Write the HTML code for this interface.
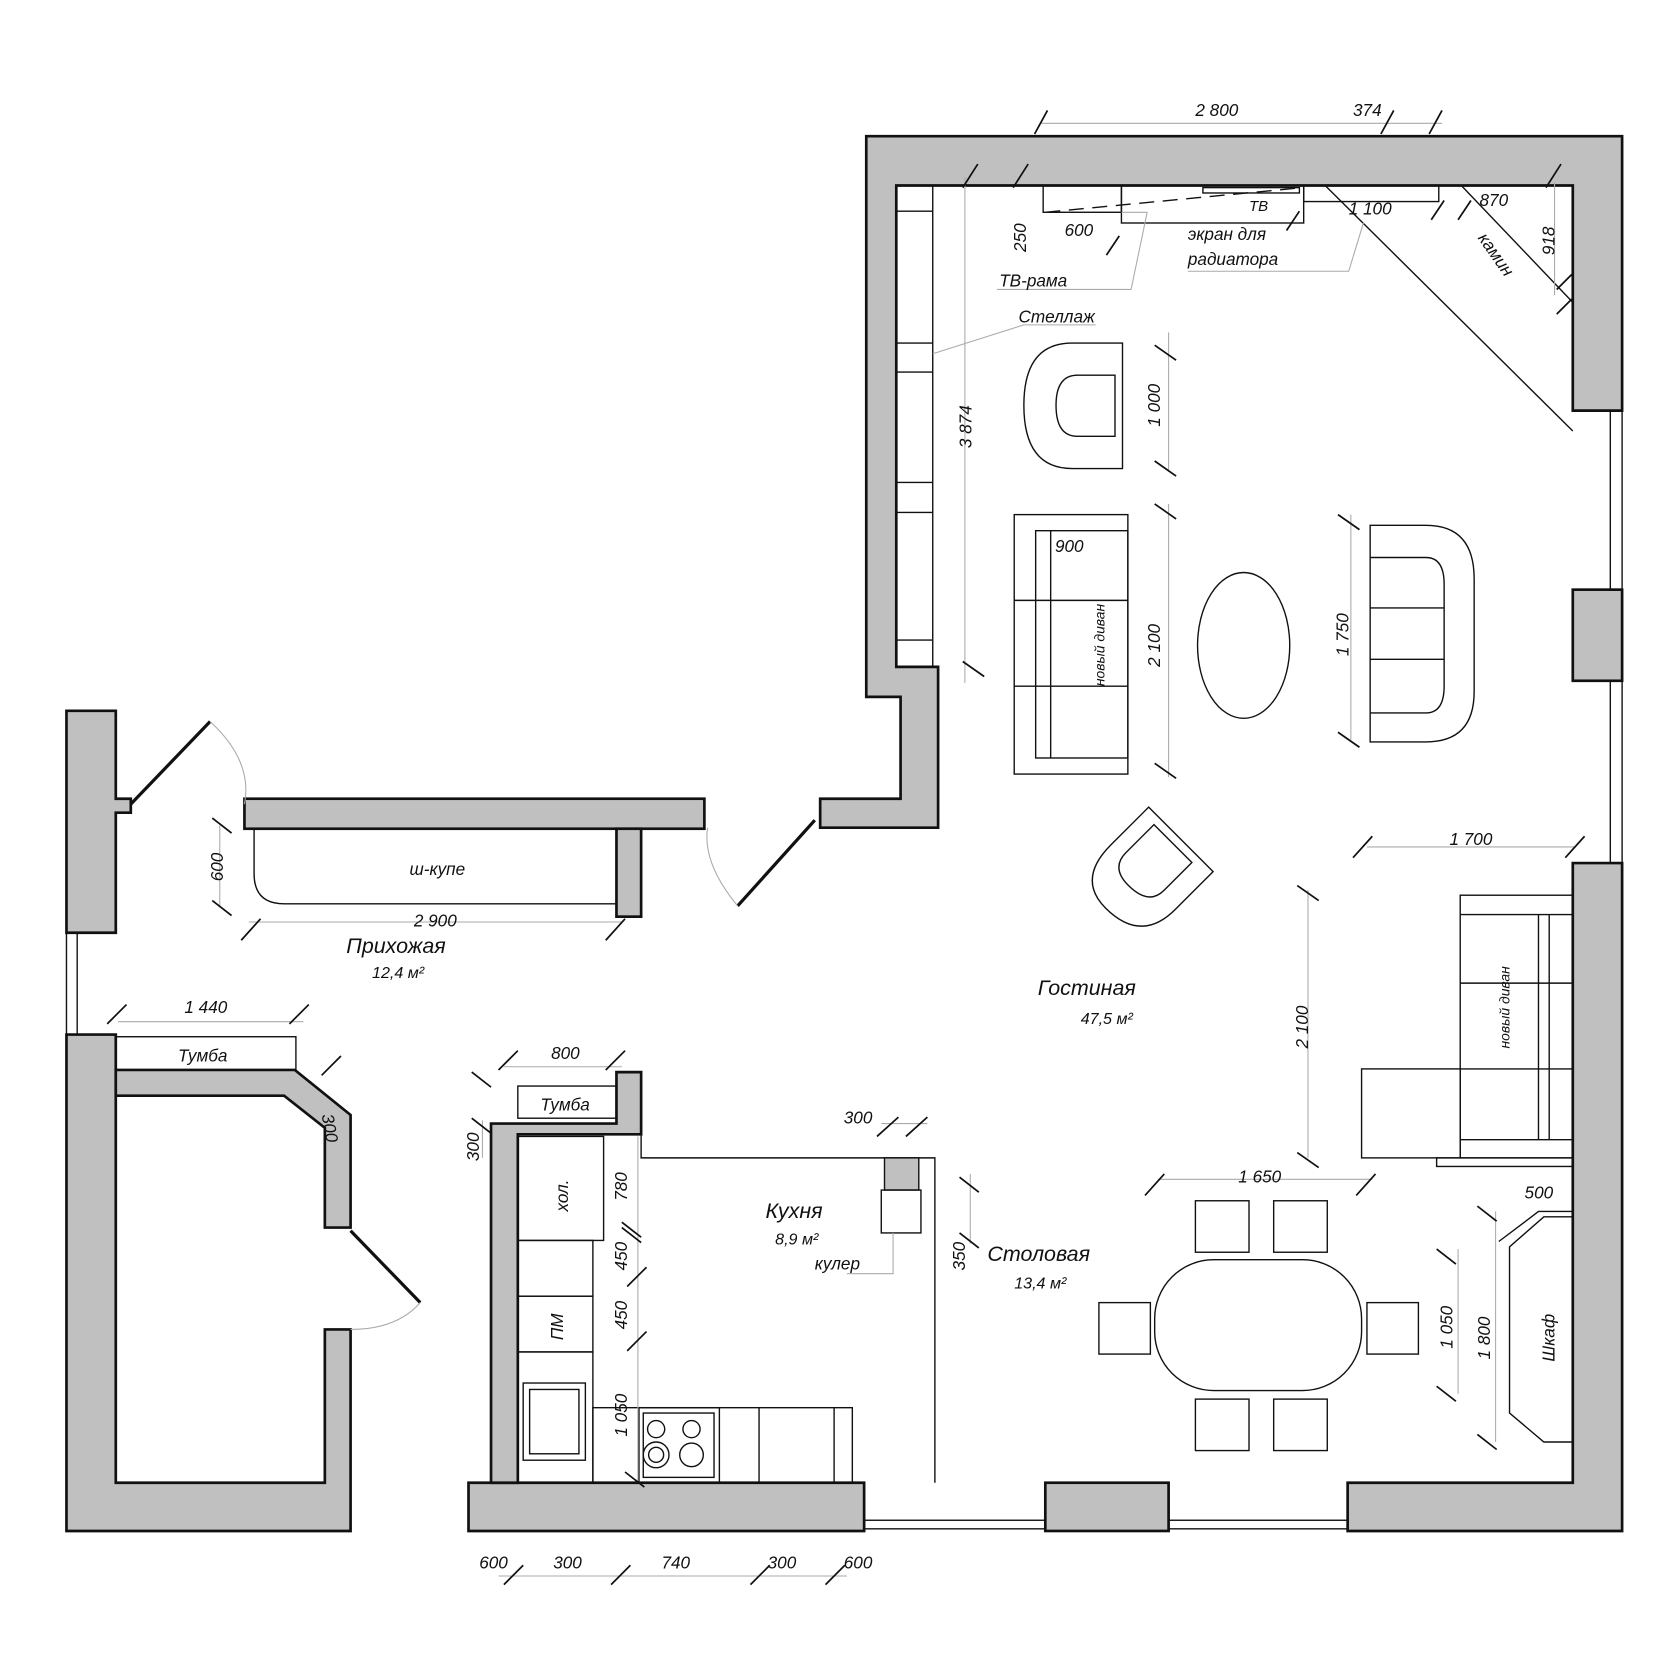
<!DOCTYPE html>
<html><head><meta charset="utf-8"><style>
html,body{margin:0;padding:0;background:#fff}
svg{display:block}
text{font-family:"Liberation Sans",sans-serif;font-style:italic;fill:#111}
</style></head><body>
<svg width="1680" height="1680" viewBox="0 0 1567 1567" xmlns="http://www.w3.org/2000/svg">
<g fill="#c0c0c0" stroke="#111" stroke-width="2.5">
<!-- living room walls -->
<path d="M808,127 H1513 V383 H1467 V173 H836 V622 H875 V772 H765 V745 H840 V650 H808 Z"/>
<rect x="1467" y="550" width="46" height="85"/>
<path d="M1467,805 H1513 V1428 H1257 V1383 H1467 Z"/>
<rect x="975" y="1383" width="115" height="45"/>
<path d="M437,1383 H806 V1428 H437 Z"/>
<!-- kitchen left wall -->
<path d="M458,1383 V1048 H575 V1000 H598 V1058 H483 V1383 Z"/>
<!-- corridor wall -->
<rect x="228" y="745" width="429" height="28"/>
<rect x="575" y="773" width="23" height="82"/>
<!-- hallway -->
<path d="M62,663 H108 V745 H122 V758 H108 V870 H62 Z"/>
<path d="M62,965 H108 V1383 H303 V1240 H327 V1428 H62 Z"/>
<path d="M108,998 H275 L327,1040 V1145 H303 V1052 L265,1022 H108 Z"/>
</g>
<g fill="none" stroke="#111" stroke-width="1.3">
<!-- windows -->
<rect x="1502" y="383" width="11" height="167"/><rect x="1502" y="635" width="11" height="170"/>
<rect x="806" y="1418" width="169" height="8"/><rect x="1090" y="1418" width="167" height="8"/>
<rect x="62" y="870" width="10" height="95"/>
<!-- shelf -->
<rect x="836" y="173" width="34" height="449"/>
<path d="M836,197H870M836,320H870M836,347H870M836,450H870M836,478H870M836,597H870"/>
<!-- TV stuff -->
<rect x="973" y="173" width="73" height="25"/><rect x="1046" y="173" width="170" height="35"/>
<rect x="1216" y="173" width="126" height="15"/>
<path d="M1236,173 L1467,402 M1363,173 L1467,282"/>
<path d="M975,198 L1215,175" stroke-dasharray="14,8"/>
<rect x="1122" y="175" width="90" height="5"/>
<!-- armchair top -->
<path d="M1047,320 H1000 Q955,320 955,378 Q955,437 1000,437 H1047 Z M1040,350 H1005 Q985,350 985,378 Q985,407 1005,407 H1040 Z"/>
<!-- left sofa -->
<rect x="946" y="480" width="106" height="242"/><rect x="966" y="495" width="86" height="212"/>
<path d="M980,495V707M946,560H1052M946,640H1052"/>
<!-- oval table -->
<ellipse cx="1160" cy="602" rx="43" ry="68"/>
<!-- right armchair -->
<path d="M1278,490 H1330 Q1375,490 1375,540 V645 Q1375,692 1330,692 H1278 Z M1278,520 H1330 Q1347,520 1347,545 V640 Q1347,665 1330,665 H1278 Z M1278,567H1347M1278,615H1347"/>
<!-- rotated armchair -->
<g transform="rotate(-45 1070 808)"><path d="M1110,770 H1060 Q1015,770 1015,808 Q1015,855 1060,855 H1110 Z M1102,785 H1065 Q1045,785 1045,808 Q1045,835 1065,835 H1102 Z"/></g>
<!-- right sofa -->
<rect x="1362" y="835" width="105" height="245"/><rect x="1270" y="997" width="92" height="83"/>
<path d="M1435,853V1063M1445,853V1063M1362,853H1467M1362,917H1467M1362,997H1467M1362,1063H1467"/>
<rect x="1340" y="1080" width="127" height="8"/>
<!-- dining -->
<rect x="1077" y="1175" width="193" height="122" rx="55"/>
<rect x="1115" y="1120" width="50" height="48"/><rect x="1188" y="1120" width="50" height="48"/>
<rect x="1115" y="1305" width="50" height="48"/><rect x="1188" y="1305" width="50" height="48"/>
<rect x="1025" y="1215" width="48" height="48"/><rect x="1275" y="1215" width="48" height="48"/>
<!-- wardrobe -->
<path d="M1467,1135 H1440 L1408,1163 V1318 L1440,1345 H1467"/>
<path d="M1467,1130 H1435 L1398,1158"/>
<!-- closet -->
<path d="M575,773 H237 V815 Q237,843 265,843 H575"/>
<!-- tumbas -->
<rect x="108" y="967" width="168" height="31"/><rect x="483" y="1013" width="92" height="30"/>
<!-- kitchen -->
<path d="M598,1058 V1080 H872 V1383"/>
<rect x="483" y="1060" width="80" height="97"/><rect x="483" y="1157" width="70" height="52"/>
<rect x="483" y="1209" width="70" height="52"/><rect x="483" y="1261" width="70" height="122"/>
<rect x="488" y="1290" width="58" height="72"/><rect x="494" y="1296" width="46" height="60"/>
<rect x="553" y="1313" width="242" height="70"/><rect x="596" y="1313" width="75" height="70"/>
<rect x="600" y="1318" width="66" height="60"/>
<circle cx="612" cy="1333" r="8"/><circle cx="645" cy="1333" r="8"/><circle cx="612" cy="1357" r="12"/><circle cx="612" cy="1357" r="7"/><circle cx="645" cy="1357" r="11"/>
<path d="M708,1313V1383M778,1313V1383"/>
<rect x="825" y="1080" width="32" height="30" fill="#c0c0c0"/><rect x="822" y="1110" width="37" height="40"/>
<!-- doors -->
<path d="M122,750 L196,673 M760,765 L688,845 M327,1148 L392,1215" stroke-width="3"/>
</g>
<g fill="none" stroke="#aaa" stroke-width="1">
<path d="M196,673 Q236,710 228,750 M688,845 Q655,805 660,772 M392,1215 Q370,1240 327,1240"/>
<path d="M870,330 L955,303 H1022 M1055,270 L1070,198 H1046 M930,270 H1055 M1108,253 H1258 L1272,207"/>
<path d="M970,115H1345M1275,790H1470M1080,1100H1280M232,860H580M110,953H283M470,995H580M822,1048H865M900,165V637M1090,310V440M1090,470V725M1260,480V690M1220,830V1080M1360,1165V1300M1395,1130V1345M1450,170V275M595,1060V1383M905,1095V1160M450,1045V1080M205,770V845M465,1470H790"/>
<path d="M833,1150V1188H790"/>
</g>
<g stroke="#111" stroke-width="1.6">
<path d="M965,125l12,-22M1288,125l12,-22M1333,125l12,-22M898,175l14,-22M945,175l14,-22M1442,175l14,-22M1032,238l12,-18M1200,215l12,-18M1335,205l12,-18M1360,205l12,-18M1452,270l14,-14M1452,293l14,-14M1077,322l20,14M1077,430l20,14M1077,470l20,14M1077,712l20,14M1248,480l20,14M1248,683l20,14M898,617l20,14M1262,800l18,-20M1460,800l18,-20M1210,826l20,14M1210,1075l20,14M1068,1115l18,-20M1265,1115l18,-20M1340,1165l18,14M1340,1293l18,14M1378,1125l18,14M1378,1338l18,14M845,1060l20,-18M818,1060l20,-18M895,1098l18,14M895,1150l18,14M198,763l18,14M198,840l18,14M225,877l18,-20M565,877l18,-20M100,955l18,-18M270,955l18,-18M300,1003l18,-18M465,998l18,-18M565,998l18,-18M440,1000l18,14M440,1043l18,14M580,1140l18,14M580,1145l18,14M585,1200l18,-18M585,1260l18,-18M583,1373l18,14M470,1478l18,-18M570,1478l18,-18M700,1478l18,-18M770,1478l18,-18"/>
</g>
<g font-size="16">
<text x="1115" y="108">2 800</text><text x="1262" y="108">374</text>
<text x="1258" y="200">1 100</text><text x="1380" y="192">870</text>
<text x="993" y="220">600</text><text x="1165" y="197" font-size="14">ТВ</text>
<text x="1108" y="224">экран для</text><text x="1108" y="247">радиатора</text>
<text x="932" y="267">ТВ-рама</text><text x="950" y="301">Стеллаж</text>
<text x="984" y="515">900</text><text x="1352" y="788">1 700</text><text x="1155" y="1103">1 650</text>
<text x="1422" y="1118">500</text><text x="382" y="816">ш-купе</text><text x="386" y="864">2 900</text>
<text x="172" y="945">1 440</text><text x="166" y="990">Тумба</text><text x="514" y="988">800</text>
<text x="504" y="1036">Тумба</text><text x="787" y="1048">300</text><text x="760" y="1184">кулер</text>
<text x="447" y="1463">600</text><text x="516" y="1463">300</text><text x="617" y="1463">740</text><text x="716" y="1463">300</text><text x="787" y="1463">600</text>
<text transform="translate(957,235) rotate(-90)">250</text>
<text transform="translate(1450,238) rotate(-90)">918</text>
<text transform="translate(1378,222) rotate(55)">камин</text>
<text transform="translate(906,418) rotate(-90)">3 874</text>
<text transform="translate(1082,398) rotate(-90)">1 000</text>
<text transform="translate(1082,622) rotate(-90)">2 100</text>
<text transform="translate(1258,612) rotate(-90)">1 750</text>
<text transform="translate(1220,978) rotate(-90)">2 100</text>
<text transform="translate(1355,1258) rotate(-90)">1 050</text>
<text transform="translate(1390,1268) rotate(-90)">1 800</text>
<text transform="translate(1450,1270) rotate(-90)">Шкаф</text>
<text transform="translate(900,1185) rotate(-90)">350</text>
<text transform="translate(208,822) rotate(-90)">600</text>
<text transform="translate(300,1040) rotate(80)">300</text>
<text transform="translate(447,1083) rotate(-90)">300</text>
<text transform="translate(585,1120) rotate(-90)">780</text>
<text transform="translate(585,1185) rotate(-90)">450</text>
<text transform="translate(585,1240) rotate(-90)">450</text>
<text transform="translate(585,1340) rotate(-90)">1 050</text>
<text transform="translate(530,1130) rotate(-90)">хол.</text>
<text transform="translate(525,1250) rotate(-90)">ПМ</text>
<text transform="translate(1030,640) rotate(-90)" font-size="13">новый диван</text>
<text transform="translate(1408,978) rotate(-90)" font-size="13">новый диван</text>
</g>
<g font-size="20">
<text x="323" y="889">Прихожая</text><text x="968" y="928">Гостиная</text>
<text x="714" y="1136">Кухня</text><text x="921" y="1176">Столовая</text>
</g>
<g font-size="15">
<text x="347" y="912">12,4 м²</text><text x="1008" y="955">47,5 м²</text>
<text x="723" y="1161">8,9 м²</text><text x="946" y="1202">13,4 м²</text>
</g>
</svg>
</body></html>
